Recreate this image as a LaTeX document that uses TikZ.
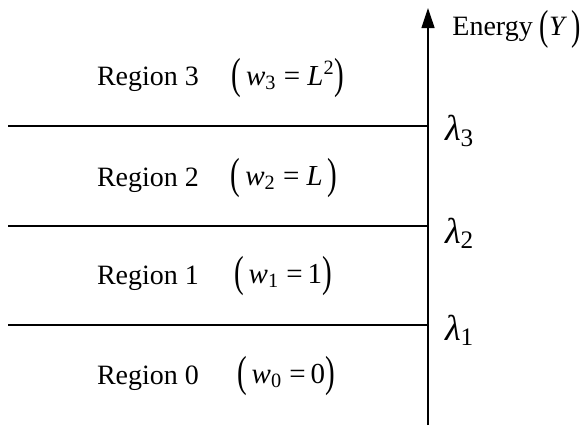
\documentclass[tikz,border=0pt]{standalone}
\usepackage{fontspec}
\setmainfont{Liberation Serif}
\usepackage{graphicx}
\usetikzlibrary{arrows.meta}

\newcommand{\bigpar}[1]{\raisebox{-0.25ex}{\scalebox{1}[1.5]{(}}#1\raisebox{-0.25ex}{\scalebox{1}[1.5]{)}}}

\begin{document}
\begin{tikzpicture}[
    x=0.5pt, y=-0.5pt,
    level/.style={line width=0.6pt},
    axis/.style={line width=0.6pt, -{Triangle[length=10pt, width=6.5pt]}},
    region/.style={font=\fontsize{14}{17}\selectfont},
    weight/.style={font=\fontsize{14.5}{17}\selectfont},
    thresh/.style={font=\fontsize{18}{21}\selectfont\itshape, anchor=west}
]
\useasboundingbox (0,0) rectangle (583,428);

% energy axis
\coordinate (bottom) at (428,425);
\coordinate (top) at (428,8);
\draw [axis] (bottom) -- (top);
\node (energy) [region, anchor=west, inner sep=0pt] at (452,29) {Energy \bigpar{\textit{Y}\,}};

% level lines
\coordinate (l3) at (8,126);
\coordinate (l2) at (8,226);
\coordinate (l1) at (8,325);
\draw [level] (l3) -- (l3 -| bottom);
\draw [level] (l2) -- (l2 -| bottom);
\draw [level] (l1) -- (l1 -| bottom);

\node (lam3) [thresh] at (438,131) {λ\textsubscript{\upshape 3}};
\node (lam2) [thresh] at (438,233) {λ\textsubscript{\upshape 2}};
\node (lam1) [thresh] at (438,330) {λ\textsubscript{\upshape 1}};

% regions
\node (reg3) [region] at (148,79) {Region 3};
\node (reg2) [region] at (148,180) {Region 2};
\node (reg1) [region] at (148,278) {Region 1};
\node (reg0) [region] at (148,378) {Region 0};

\node (w3) [weight] at (288,78) {\bigpar{\,\textit{w}\textsubscript{3} = \textit{L}\textsuperscript{2}}};
\node (w2) [weight] at (284,178) {\bigpar{\,\textit{w}\textsubscript{2} = \textit{L}\,}};
\node (w1) [weight] at (283,276) {\bigpar{\,\textit{w}\textsubscript{1} =\,1}};
\node (w0) [weight] at (286,376) {\bigpar{\,\textit{w}\textsubscript{0} =\,0}};
\end{tikzpicture}
\end{document}
